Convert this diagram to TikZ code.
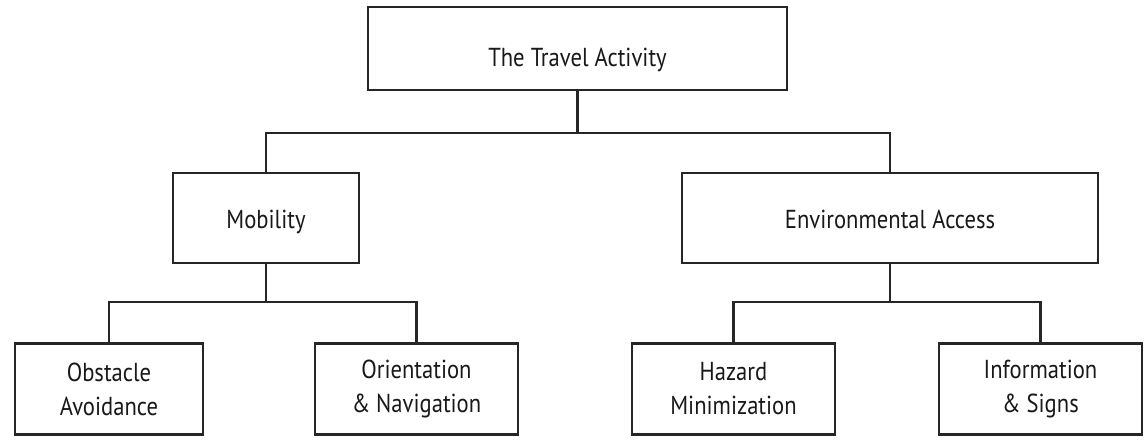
\documentclass[tikz,border=0pt]{standalone}
\usepackage{fontspec}
\setmainfont[FakeStretch=0.87]{PT Sans}
\newcommand{\lowtext}[2]{\raisebox{0pt}[#1][0pt]{#2}}
\begin{document}
\begin{tikzpicture}[x=1pt,y=-1pt,
  box/.style={draw=black!85,line width=2.4pt,fill=white,inner sep=0pt,align=center,text=black!90,font=\fontsize{26}{34}\selectfont},
  link/.style={draw=black!85,line width=2.2pt}]
\useasboundingbox (0,0) rectangle (1147,439);
\node[box,minimum width=419,minimum height=83] (top) at (577.5,48.5) {\lowtext{36pt}{The Travel Activity}};
\node[box,minimum width=186,minimum height=90] (mob) at (266,218) {\lowtext{21pt}{Mobility}};
\node[box,minimum width=416,minimum height=90] (env) at (890,218) {\lowtext{21pt}{Environmental Access}};
\node[box,minimum width=188,minimum height=91] (obs) at (109,389) {Obstacle\\Avoidance};
\node[box,minimum width=203,minimum height=91] (ori) at (416.5,389) {Orientation\\\&~Navigation};
\node[box,minimum width=203,minimum height=91] (haz) at (733.5,389) {Hazard\\Minimization};
\node[box,minimum width=203,minimum height=91] (inf) at (1040.5,389) {Information\\\&~Signs};
\coordinate (j1) at (577.5,133);
\coordinate (j2) at (266,302);
\coordinate (j3) at (890,302);
\draw[link] (top.south) -- (j1) -| (mob.north);
\draw[link] (j1) -| (env.north);
\draw[link] (mob.south) -- (j2) -| (obs.north);
\draw[link] (j2) -| (ori.north);
\draw[link] (env.south) -- (j3) -| (haz.north);
\draw[link] (j3) -| (inf.north);
\end{tikzpicture}
\end{document}
